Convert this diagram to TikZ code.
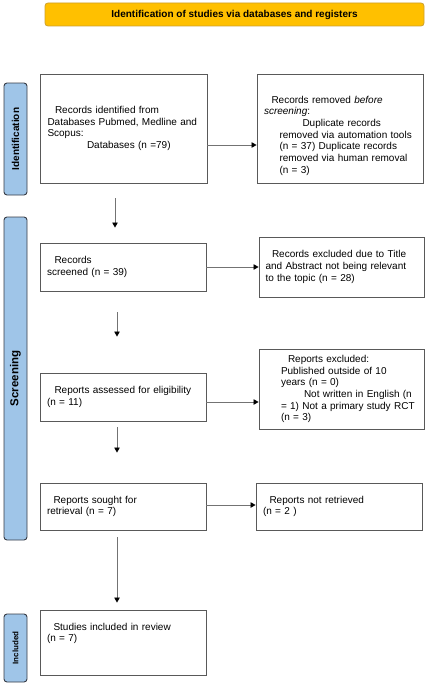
\documentclass[tikz,border=0pt]{standalone}
\usepackage{fontspec}
\setmainfont{Liberation Sans}
\usetikzlibrary{arrows.meta}
\usepackage{xcolor}
\definecolor{hdrfill}{RGB}{255,192,0}
\definecolor{hdrline}{RGB}{205,160,45}
\definecolor{sidefill}{RGB}{159,197,232}
\definecolor{sideline}{RGB}{55,60,70}
\newcommand{\ind}[1]{\hspace*{#1pt}}
\tikzset{
    % boxes and labels
    mybox/.style={draw=black!65, line width=0.9pt, fill=white, text width=152pt, align=left, inner sep=0pt, font=\fontsize{10}{11.7}\selectfont},
    myhdr/.style={draw=hdrline, line width=0.8pt, fill=hdrfill, rounded corners=3pt, inner sep=0pt, font=\fontsize{10}{12}\selectfont\bfseries},
    myside/.style={rotate=90, draw=sideline, line width=0.9pt, fill=sidefill, rounded corners=3pt, inner sep=0pt, font=\bfseries},
    % arrows
    myarr/.style={-{Triangle[width=5.5pt,length=5pt,color=black]}, draw=black!55, line width=0.8pt},
}
\begin{document}
\begin{tikzpicture}[x=1pt,y=-1pt]
    \useasboundingbox (0,0) rectangle (428,685);
 % header and phases
    \node (H) at (234.5,14.5) [myhdr, minimum width=379pt, minimum height=23pt] {Identification of studies via databases and registers};
    \node (P1) at (15.5,139) [myside, minimum width=112pt, minimum height=23pt, font=\fontsize{10}{12}\selectfont\bfseries] {Identification};
    \node (P2) at (15.5,378.5) [myside, minimum width=323pt, minimum height=23pt, font=\fontsize{11.5}{13}\selectfont\bfseries] {Screening};
    \node (P3) at (15.5,648) [myside, minimum width=68pt, minimum height=23pt, font=\fontsize{8}{10}\selectfont\bfseries] {Included};

 % left column
    \node (B1) at (123.5,128.5) [mybox, minimum width=167pt, minimum height=109pt] {\ind{7.5}Records identified from\\Databases Pubmed, Medline and\\Scopus:\\\ind{39.5}Databases (n =79)};
    \node (B3) at (123,267) [mybox, minimum width=166pt, minimum height=48pt] {\ind{7.5}Records\\screened (n = 39)};
    \node (B5) at (123,397) [mybox, minimum width=166pt, minimum height=48pt] {\ind{7.5}Reports assessed for eligibility\\(n = 11)};
    \node (B7) at (123,506.5) [mybox, minimum width=166pt, minimum height=47pt] {\ind{6.5}Reports sought for\\retrieval (n = 7)};
    \node (B9) at (123,642.5) [mybox, minimum width=166pt, minimum height=65pt] {\ind{6.5}Studies included in review\\(n = 7)\\[5pt]\strut};

 % right column
    \node (B2) at (340,128.5) [mybox, minimum width=166pt, minimum height=109pt] {\strut\\[1.5pt]\ind{7.5}Records removed \textit{before}\\\textit{screening}:\\\ind{38.5}Duplicate records\\\ind{15.5}removed via automation tools\\\ind{15.5}(n = 37) Duplicate records\\\ind{15.5}removed via human removal\\\ind{15.5}(n = 3)};
    \node (B4) at (341.5,267) [mybox, minimum width=165pt, minimum height=60pt] {\ind{6.5}Records excluded due to Title\\and Abstract not being relevant\\to the topic (n = 28)};
    \node (B6) at (341.5,389) [mybox, minimum width=165pt, minimum height=80pt] {\ind{22.5}Reports excluded:\\\ind{15.5}Published outside of 10\\\ind{15.5}years (n = 0)\\\ind{38.5}Not written in English (n\\\ind{15.5}= 1) Not a primary study RCT\\\ind{15.5}(n = 3)};
    \node (B8) at (339,506.5) [mybox, minimum width=166pt, minimum height=47pt] {\ind{6.5}Reports not retrieved\\(n = 2 )};

 % ARROWS
    \draw[myarr] ([yshift=-16.5pt]B1.east) -- ([yshift=-16.5pt]B2.west);
    \draw[myarr] (B3) -- (B4);
    \draw[myarr] ([yshift=-5pt]B5.east) -- ([yshift=-5pt]B5.east -| B6.west);
    \draw[myarr] ([yshift=1.5pt]B7.east) -- ([yshift=1.5pt]B8.west);

    \draw[myarr, shorten <=15pt, shorten >=15pt] ([xshift=-8.5pt]B1.south) -- ([xshift=-8pt]B3.north);
    \draw[myarr, shorten <=21pt, shorten >=36pt] ([xshift=-6pt]B3.south) -- ([xshift=-6pt]B5.north);
    \draw[myarr, shorten <=6pt, shorten >=30pt] ([xshift=-6pt]B5.south) -- ([xshift=-6pt]B7.north);
    \draw[myarr, shorten <=7pt, shorten >=7pt] ([xshift=-6pt]B7.south) -- ([xshift=-6pt]B9.north);
\end{tikzpicture}
\end{document}
